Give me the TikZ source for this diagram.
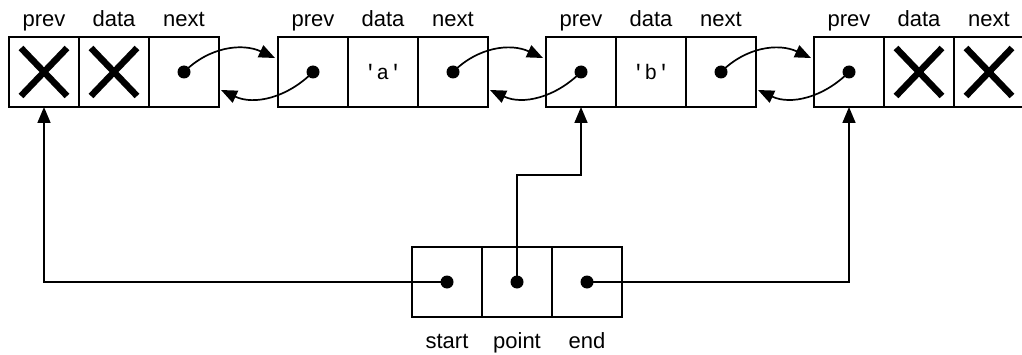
\documentclass[tikz,border=0pt]{standalone}
\usepackage{fontspec}
\setmainfont{Liberation Sans}
\setmonofont{Liberation Mono}
\usetikzlibrary{
	positioning,
	arrows.meta % for nice-looking arrows
	}

\begin{document}
\begin{tikzpicture}[x=1pt,y=1pt,black,line width=1.7pt,
        cell/.style={draw,minimum size=70pt,inner sep=0pt,outer sep=0pt},
        ptr/.style={-{Triangle[length=16pt,width=13pt]}},
        xmark/.style={line width=6.5pt},
        lbl/.style={font=\fontsize{22}{26}\selectfont,anchor=base,inner sep=0pt}]

            \useasboundingbox (0,0) rectangle (1022,354);

            % Coordinates
            \coordinate(A) at (9,282);
            \coordinate(B) at (278,282);
            \coordinate(C) at (546,282);
            \coordinate(D) at (814,282);
            \coordinate(E) at (412,72);


            % Lists
            \node[cell,anchor=west] (P1) at (A) {};
            \node[cell,right=0pt of P1] (D1) {};
            \node[cell,right=0pt of D1] (N1) {};

            \node[cell,anchor=west] (P2) at (B) {};
            \node[cell,right=0pt of P2,
                font=\ttfamily\fontsize{21}{24}\selectfont] (D2) {'a'};
            \node[cell,right=0pt of D2] (N2) {};

            \node[cell,anchor=west] (P3) at (C) {};
            \node[cell,right=0pt of P3,
                font=\ttfamily\fontsize{21}{24}\selectfont] (D3) {'b'};
            \node[cell,right=0pt of D3] (N3) {};

            \node[cell,anchor=west] (P4) at (D) {};
            \node[cell,right=0pt of P4] (D4) {};
            \node[cell,right=0pt of D4] (N4) {};


            % Iterator
            \node[cell,anchor=west] (S) at (E) {};
            \node[cell,right=0pt of S] (T) {};
            \node[cell,right=0pt of T] (F) {};


            % Labels
            \foreach \n/\t in {P1/prev,D1/data,N1/next,P2/prev,D2/data,N2/next,
                    P3/prev,D3/data,N3/next,P4/prev,D4/data,N4/next}
                \node[lbl] (L\n) at ([yshift=10pt]\n.north) {\t};
            \foreach \n/\t in {S/start,T/point,F/end}
                \node[lbl] (L\n) at ([yshift=-31pt]\n.south) {\t};


            % Crosses
            \draw[xmark] ([shift={(-23,-24)}]P1.center) -- ++(46,48)
                ([shift={(-23,24)}]P1.center) -- ++(46,-48);
            \draw[xmark] ([shift={(-23,-24)}]D1.center) -- ++(46,48)
                ([shift={(-23,24)}]D1.center) -- ++(46,-48);
            \draw[xmark] ([shift={(-23,-24)}]D4.center) -- ++(46,48)
                ([shift={(-23,24)}]D4.center) -- ++(46,-48);
            \draw[xmark] ([shift={(-23,-24)}]N4.center) -- ++(46,48)
                ([shift={(-23,24)}]N4.center) -- ++(46,-48);


            % Links
            \draw[ptr] (N1.center) to[out=45,in=155] ([shift={(-3,14)}]P2.west);
            \draw[ptr] (P2.center) to[out=225,in=-25] ([shift={(2,-18)}]N1.east);
            \draw[ptr] (N2.center) to[out=45,in=155] ([shift={(-3,14)}]P3.west);
            \draw[ptr] (P3.center) to[out=225,in=-25] ([shift={(2,-18)}]N2.east);
            \draw[ptr] (N3.center) to[out=45,in=155] ([shift={(-3,14)}]P4.west);
            \draw[ptr] (P4.center) to[out=225,in=-25] ([shift={(2,-18)}]N3.east);

            \draw[ptr] (S.center) -| (P1.south);
            \draw[ptr] (T.center) -- ++(0,107) -| (P3.south);
            \draw[ptr] (F.center) -| (P4.south);


            % Dots
            \foreach \n in {N1,P2,N2,P3,N3,P4,S,T,F}
                \fill (\n.center) circle[radius=6.5pt];

        \end{tikzpicture}
\end{document}
